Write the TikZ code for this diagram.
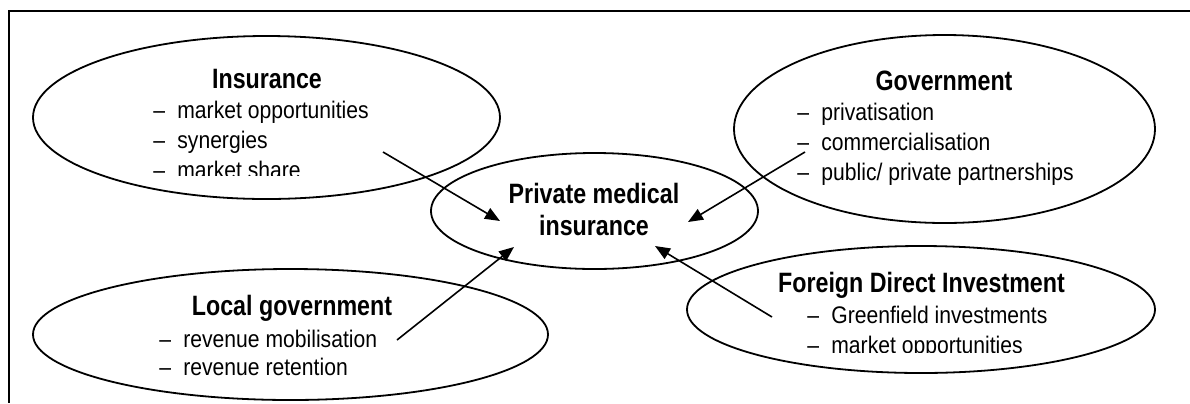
\documentclass[tikz,border=0pt]{standalone}
\usepackage{fontspec}
\setmainfont{Liberation Sans}[FakeStretch=0.88]
\newfontfamily\ttlfont{Liberation Sans}[FakeStretch=0.83]
\usetikzlibrary{shapes.geometric,arrows.meta}
\newcommand\itmdash{\makebox[12pt][l]{–}}
\begin{document}
\begin{tikzpicture}[x=0.5pt,y=-0.5pt,
  oval/.style={draw,ellipse,line width=0.9pt,inner sep=0},
  ttl/.style={inner sep=0,anchor=base,font=\ttlfont\fontsize{14}{16}\selectfont\bfseries},
  itm/.style={inner sep=0,anchor=base west,font=\fontsize{12}{15}\selectfont},
  arr/.style={line width=0.8pt,-{Triangle[length=7.5pt,width=6pt]}}]
\useasboundingbox (0,0) rectangle (1190,403);
\draw[line width=1pt] (1190,11) -- (9,11) -- (9,403);
% ellipses
\node[oval,minimum width=233.5pt,minimum height=81.5pt] (ins) at (266.5,117.5) {};
\node[oval,minimum width=210.5pt,minimum height=94pt] (gov) at (944.5,129) {};
\node[oval,minimum width=163.5pt,minimum height=58pt] (pmi) at (594.5,211) {};
\node[oval,minimum width=257.5pt,minimum height=65.5pt] (loc) at (290.5,334.5) {};
\node[oval,minimum width=234pt,minimum height=63.5pt] (fdi) at (921,309.5) {};
% Insurance
\node[ttl] (ins-t) at (267,88) {Insurance};
\node[itm] (ins-1) at (153,118) {\itmdash market opportunities};
\node[itm] (ins-2) at (153,148) {\itmdash synergies};
\begin{scope}
  \clip (100,150) rectangle (450,175);
  \node[itm] (ins-3) at (153,178) {\itmdash market share};
\end{scope}
% Government
\node[ttl] (gov-t) at (944,90) {Government};
\node[itm] (gov-1) at (797,120) {\itmdash privatisation};
\node[itm] (gov-2) at (797,150) {\itmdash commercialisation};
\node[itm] (gov-3) at (797,180) {\itmdash public/ private partnerships};
% Private medical insurance
\node[ttl] (pmi-1) at (594,203) {Private medical};
\node[ttl] (pmi-2) at (594,235) {insurance};
% Local government
\node[ttl] (loc-t) at (292,315) {Local government};
\node[itm] (loc-1) at (159,347) {\itmdash revenue mobilisation};
\node[itm] (loc-2) at (159,375) {\itmdash revenue retention};
% FDI
\node[ttl] (fdi-t) at (921.5,292) {Foreign Direct Investment};
\node[itm] (fdi-1) at (807,323) {\itmdash Greenfield investments};
\begin{scope}
  \clip (780,330) rectangle (1100,352);
  \node[itm] (fdi-2) at (807,353) {\itmdash market opportunities};
\end{scope}
% arrows
\coordinate (a1s) at (383,152); \coordinate (a1e) at (500,221);
\coordinate (a2s) at (805,152); \coordinate (a2e) at (688,222);
\coordinate (a3s) at (397,340); \coordinate (a3e) at (514,247);
\coordinate (a4s) at (772,317); \coordinate (a4e) at (655,246);
\draw[arr] (a1s) -- (a1e);
\draw[arr] (a2s) -- (a2e);
\draw[arr] (a3s) -- (a3e);
\draw[arr] (a4s) -- (a4e);
\end{tikzpicture}
\end{document}
